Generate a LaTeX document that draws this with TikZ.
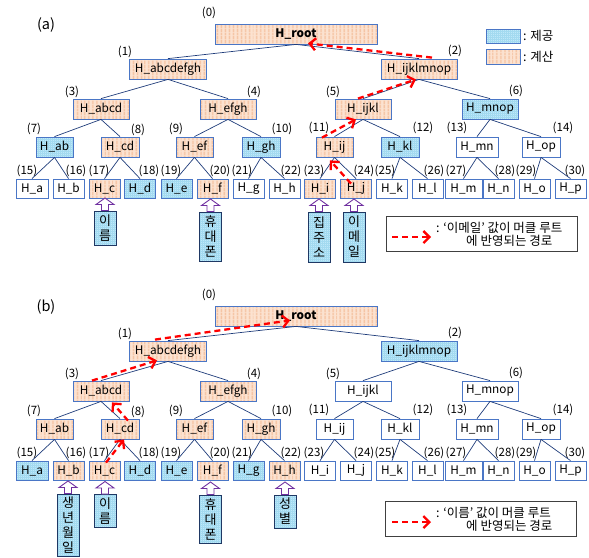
\documentclass[tikz,border=0pt]{standalone}
\usepackage{fontspec}
\setmainfont{Noto Sans CJK KR}
\usetikzlibrary{arrows.meta,patterns.meta,calc}
\definecolor{bordblue}{HTML}{4A76C6}
\definecolor{edgeblue}{HTML}{1F3C7A}
\definecolor{peach}{HTML}{FCE2D0}
\definecolor{peachd}{HTML}{F5C3A2}
\definecolor{skyc}{HTML}{BFE8F9}
\definecolor{skyd}{HTML}{A3DAF0}
\definecolor{navy}{HTML}{1F3864}
\definecolor{purp}{HTML}{7030A0}
\newcommand\hollowup[1]{\draw[purp, line width=0.9pt, fill=white, line join=miter]
  ($(#1.north)+(-3.5,0)$) -- ++(0,-6) -- ++(-5.5,0) -- ++(9,-6.5) -- ++(9,6.5) -- ++(-5.5,0) -- ++(0,6) -- cycle;}
\begin{document}
\begin{tikzpicture}[x=1pt,y=-1pt,
 box/.style={draw=bordblue, line width=0.8pt, inner sep=0pt, font=\fontsize{11.8}{13}\selectfont},
 cmp/.style={preaction={fill=peach}, preaction={pattern={Lines[angle=90,distance=4pt,line width=1.8pt]}, pattern color=peachd}},
 giv/.style={preaction={fill=skyc}, preaction={pattern={Hatch[angle=0,distance=2pt,line width=0.35pt]}, pattern color=skyd}},
 wht/.style={fill=white},
 idx/.style={inner sep=0pt, font=\fontsize{11.5}{13}\selectfont},
 edge/.style={draw=edgeblue, line width=0.7pt},
 redarr/.style={draw=red, line width=2.3pt, dash pattern=on 6pt off 4pt, -{Straight Barb[length=6pt,width=12pt]}},
 databox/.style={draw=navy, line width=1pt, giv, minimum width=22pt, inner sep=0pt, align=center, font=\fontsize{13}{15}\selectfont},
 legbox/.style={draw=black!75, line width=0.9pt, minimum width=191pt, minimum height=35pt, inner sep=0pt},
 legtxt/.style={inner sep=0pt, anchor=west, font=\fontsize{12.5}{14}\selectfont},
]
\useasboundingbox (0,0) rectangle (589,557);
\node[inner sep=0pt, font=\fontsize{14.5}{16}\selectfont] (pa) at (46,25) {(a)};
\node[inner sep=0pt, font=\fontsize{14.5}{16}\selectfont] (pb) at (46,307) {(b)};
\foreach \k/\x/\y/\w/\h/\t/\lx/\ly/\sa/\sb in {
0/296/34/162/20/{\textbf{H\_root}}/209/13/cmp/cmp,
1/168/69/77/20/H\_abcdefgh/125/52/cmp/cmp,
2/419/69/76/20/H\_ijklmnop/455/51/cmp/giv,
3/101/109/56/20/H\_abcd/72/92/cmp/cmp,
4/228/109/56/20/H\_efgh/254/92/cmp/cmp,
5/363/109/56/20/H\_ijkl/333/92/cmp/wht,
6/490/109/56/20/H\_mnop/516/91/giv/wht,
7/54.5/147/37/20/H\_ab/34/129/giv/cmp,
8/120/147/38/20/H\_cd/138/130/cmp/cmp,
9/194.5/147/37/20/H\_ef/176/129/cmp/cmp,
10/261/147/38/20/H\_gh/282/129/giv/cmp,
11/334.5/147/37/20/H\_ij/319/128/cmp/wht,
12/400/147/38/20/H\_kl/423/128/giv/wht,
13/477/147/42/20/H\_mn/457/128/wht/wht,
14/541/147/38/20/H\_op/563/128/wht/wht,
15/32/188.5/32/19/H\_a/27/171/wht/giv,
16/68.5/188.5/31/19/H\_b/76/171/wht/cmp,
17/104.5/188.5/31/19/H\_c/99/171/cmp/cmp,
18/140/188.5/31/19/H\_d/149/171/giv/giv,
19/176.5/188.5/31/19/H\_e/171/171/giv/giv,
20/212.5/188.5/31/19/H\_f/220/171/cmp/cmp,
21/248.5/188.5/31/19/H\_g/242/171/wht/giv,
22/284.5/188.5/31/19/H\_h/291/171/wht/cmp,
23/320/188.5/31/19/H\_i/314/171/cmp/wht,
24/356/188.5/31/19/H\_j/364/171/cmp/wht,
25/392/188.5/31/19/H\_k/385/171/wht/wht,
26/427.5/188.5/31/19/H\_l/434/171/wht/wht,
27/463.5/188.5/37/19/H\_m/456/171/wht/wht,
28/498.5/188.5/31/19/H\_n/505/171/wht/wht,
29/534.5/188.5/31/19/H\_o/526/171/wht/wht,
30/570.5/188.5/31/19/H\_p/575/171/wht/wht}{
 \node[box,\sa,minimum width=\w pt,minimum height=\h pt] (a\k) at (\x,\y) {\t};
 \node[box,\sb,minimum width=\w pt,minimum height=\h pt] (b\k) at (\x,\y+282) {\t};
 \node[idx] (la\k) at (\lx,\ly) {(\k)};
 \node[idx] (lb\k) at (\lx,\ly+282) {(\k)};
}
\foreach \k in {0,...,14}{
 \pgfmathtruncatemacro\chL{2*\k+1}
 \pgfmathtruncatemacro\chR{2*\k+2}
 \foreach \p in {a,b}{
  \draw[edge] (\p\k.south) -- (\p\chL.north);
  \draw[edge] (\p\k.south) -- (\p\chR.north);
 }
}
% data boxes (a)
\node[databox, minimum height=34pt] (ad1) at (105,228) {이\\름};
\node[databox, minimum height=49pt] (ad2) at (210.5,236.5) {휴\\대\\폰};
\node[databox, minimum height=50pt] (ad3) at (319,237) {집\\주\\소};
\node[databox, minimum height=50pt] (ad4) at (354,237) {이\\메\\일};
% data boxes (b)
\node[databox, minimum height=62pt] (bd1) at (68,525) {생\\년\\월\\일};
\node[databox, minimum height=33pt] (bd2) at (105,511) {이\\름};
\node[databox, minimum height=48pt] (bd3) at (210.5,519) {휴\\대\\폰};
\node[databox, minimum height=33pt] (bd4) at (285,511.5) {성\\별};
\foreach \d in {ad1,ad2,ad3,ad4,bd1,bd2,bd3,bd4}{\hollowup{\d}}
% top legend
\node[box, giv, minimum width=34pt, minimum height=14pt] (lg1) at (503,36) {};
\node[box, cmp, minimum width=34pt, minimum height=15pt] (lg2) at (503,56.5) {};
\node[legtxt, font=\fontsize{12.5}{14}\selectfont] (lt1) at (523,36) {: 제공};
\node[legtxt, font=\fontsize{12.5}{14}\selectfont] (lt2) at (523,56.5) {: 계산};
% legend (a)
\node[legbox] (lega) at (481.5,233.5) {};
\coordinate (lega-s) at (392,237);
\coordinate (lega-e) at (431,237);
\draw[redarr] (lega-s) -- (lega-e);
\node[legtxt] (legat1) at (436,227.5) {: ‘이메일’ 값이 머클 루트};
\node[legtxt] (legat2) at (466,241) {에 반영되는 경로};
% legend (b)
\node[legbox] (legb) at (481,519) {};
\coordinate (legb-s) at (392,522);
\coordinate (legb-e) at (431,522);
\draw[redarr] (legb-s) -- (legb-e);
\node[legtxt] (legbt1) at (436,512.5) {: ‘이름’ 값이 머클 루트};
\node[legtxt] (legbt2) at (466,526) {에 반영되는 경로};
% red paths (a)
\draw[redarr] ($(a24.north)+(-5,5)$) -- ($(a11.south)+(-4.5,3)$);
\draw[redarr] ($(a11.north)+(-12.5,1)$) -- ($(a5.south)+(-7,0)$);
\draw[redarr] ($(a5.north)+(-5,0)$) -- ($(a2.south)+(-3,0)$);
\draw[redarr] ($(a2.north)+(13,-1)$) -- ($(a0.south)+(12,-1)$);
% red paths (b)
\draw[redarr] ($(b17.north)+(1.5,2)$) -- ($(b8.south)+(4,0)$);
\draw[redarr] ($(b8.north)+(8,2)$) -- ($(b3.south)+(11,1)$);
\draw[redarr] ($(b3.north)+(-9,0)$) -- ($(b1.south)+(-11,-1)$);
\draw[redarr] ($(b1.north)+(-13,-1)$) -- ($(b0.south)+(-6,-6)$);
\end{tikzpicture}
\end{document}
